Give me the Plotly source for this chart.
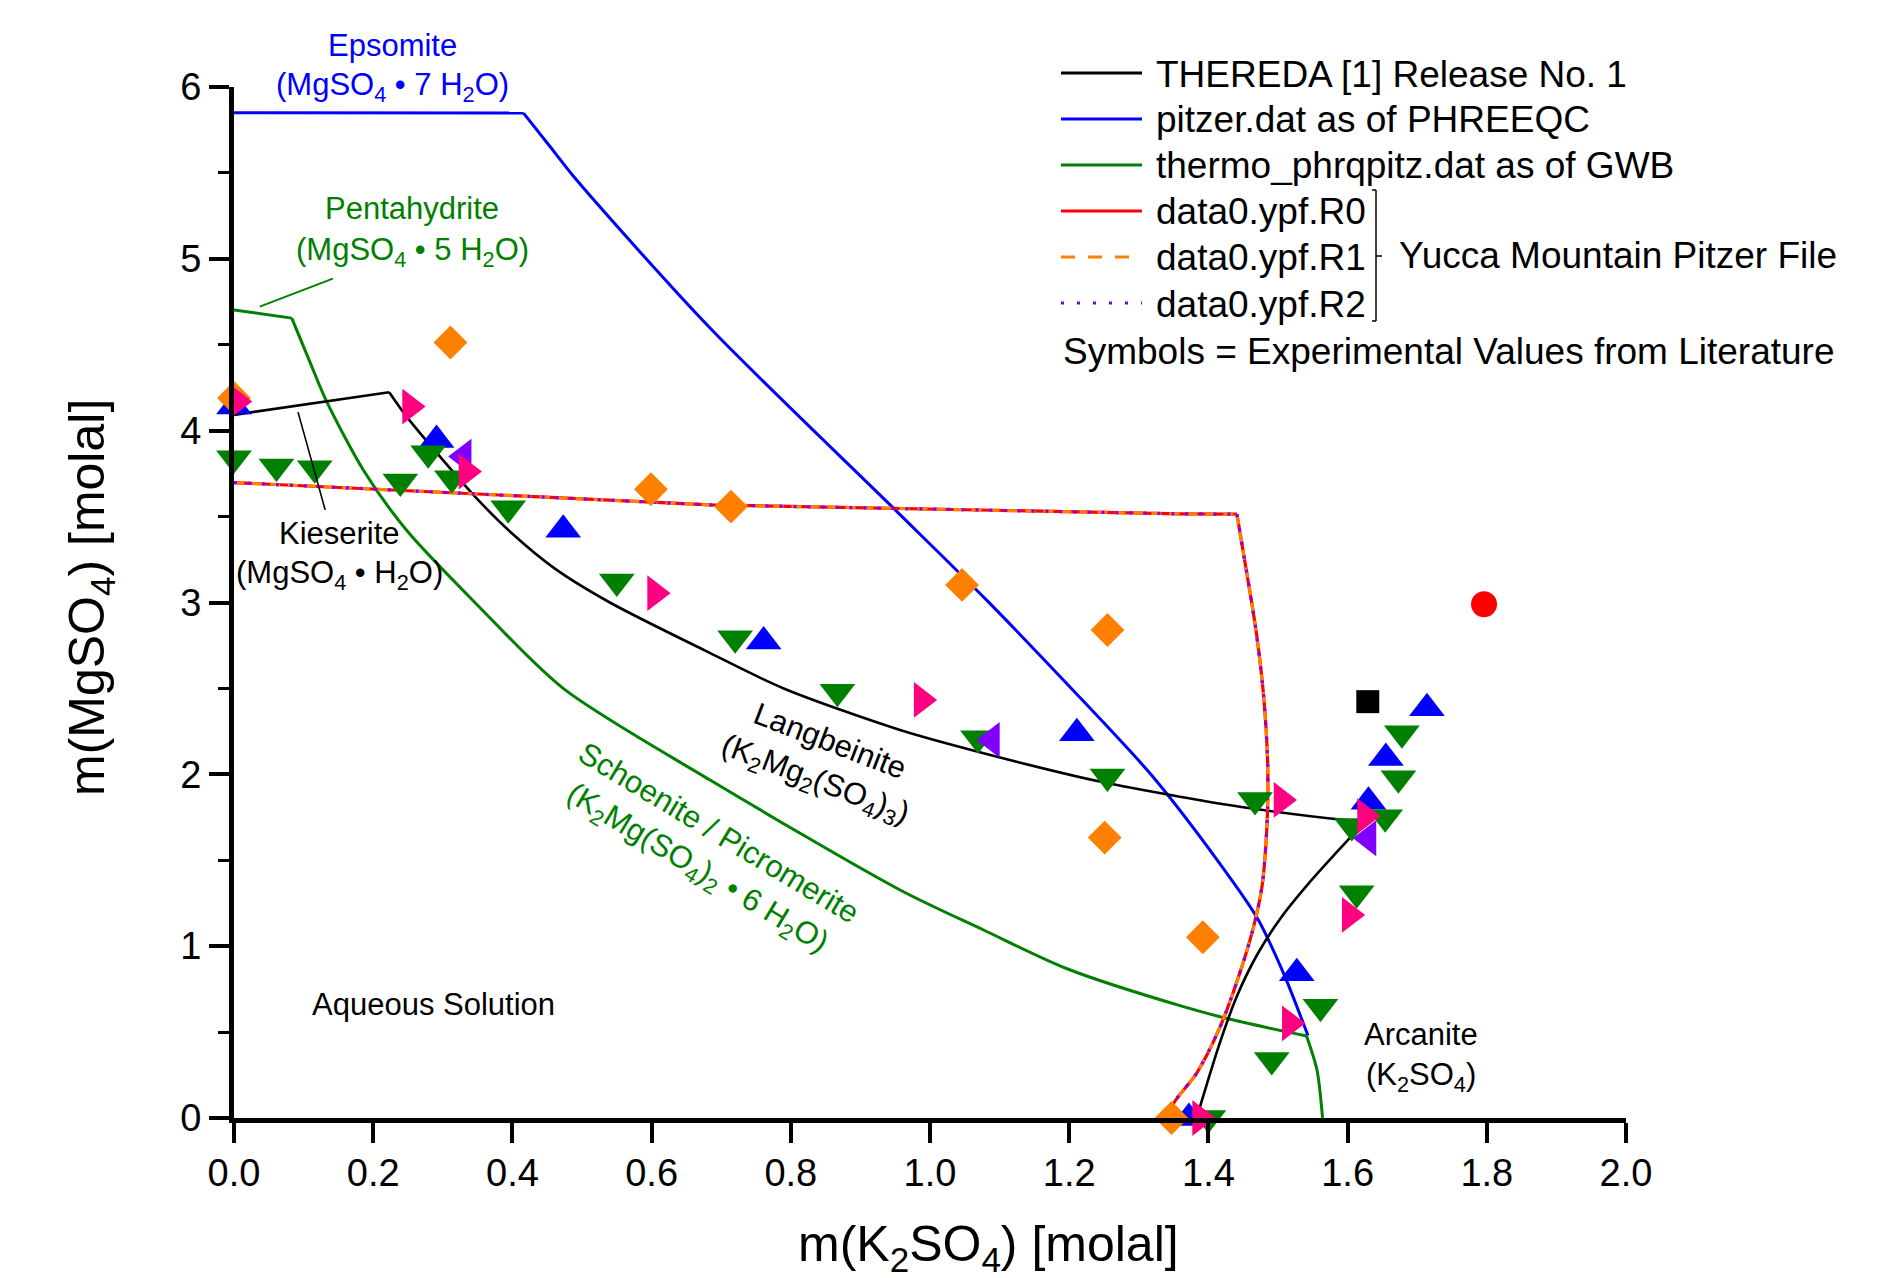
import plotly.graph_objects as go

# ---------------- data ----------------
# THEREDA [1] Release No. 1 (black); corner after the 2nd point
thereda_x = [0.0, 0.223, 0.248, 0.300, 0.350, 0.400, 0.460, 0.540, 0.677, 0.789,
             0.957, 1.077, 1.244, 1.359, 1.460, 1.594, 1.625]
thereda_y = [4.092, 4.224, 4.082, 3.830, 3.600, 3.400, 3.200, 3.000, 2.720, 2.501,
             2.258, 2.123, 1.958, 1.870, 1.803, 1.735, 1.725]
# THEREDA Langbeinite / Arcanite boundary
thereda2_x = [1.383, 1.398, 1.415, 1.440, 1.470, 1.505, 1.545, 1.585, 1.625]
thereda2_y = [0.0, 0.20, 0.42, 0.70, 0.95, 1.17, 1.37, 1.55, 1.725]

# pitzer.dat as of PHREEQC (blue); corner after the 2nd point
phreeqc_x = [0.0, 0.416, 0.454, 0.492, 0.684, 0.950, 1.081, 1.196, 1.316,
             1.402, 1.469, 1.508, 1.543]
phreeqc_y = [5.850, 5.848, 5.654, 5.460, 4.597, 3.539, 3.015, 2.530, 2.006,
             1.560, 1.172, 0.842, 0.480]

# thermo_phrqpitz.dat as of GWB (green); corners at index 1 and 14
gwb_x = [0.0, 0.083, 0.109, 0.133, 0.186, 0.248, 0.351, 0.473, 0.684, 0.957,
         1.077, 1.196, 1.364, 1.436, 1.541, 1.556, 1.564]
gwb_y = [4.703, 4.655, 4.400, 4.170, 3.770, 3.420, 2.980, 2.500, 1.967, 1.327,
         1.094, 0.870, 0.648, 0.570, 0.477, 0.279, 0.0]

# data0.ypf.R0 / R1 / R2 (Yucca Mountain Pitzer File) - the curves coincide; corner at index 4
ypf_x = [0.0, 0.35, 0.684, 1.359, 1.441, 1.460, 1.469, 1.479, 1.485, 1.485,
         1.481, 1.477, 1.465, 1.445, 1.417, 1.383, 1.350, 1.345]
ypf_y = [3.698, 3.630, 3.568, 3.516, 3.514, 3.054, 2.821, 2.472, 2.084, 1.793,
         1.502, 1.346, 1.114, 0.842, 0.532, 0.260, 0.085, 0.0]

# experimental values from literature (symbols)
blue_up_x = [0.0, 0.291, 0.473, 0.761, 1.211, 1.527, 1.372, 1.630, 1.655, 1.714]
blue_up_y = [4.14, 3.946, 3.423, 2.773, 2.239, 0.842, 0.0, 1.840, 2.095, 2.385]

green_dn_x = [0.0, 0.061, 0.116, 0.279, 0.239, 0.313, 0.394, 0.550, 0.720, 0.867,
              1.069, 1.255, 1.467, 1.561, 1.491, 1.613, 1.400, 1.606, 1.654, 1.673, 1.678]
green_dn_y = [3.84, 3.791, 3.782, 3.869, 3.704, 3.723, 3.549, 3.122, 2.792, 2.481,
              2.210, 1.987, 1.851, 0.648, 0.338, 1.308, 0.0, 1.700, 1.750, 1.977, 2.239]

orange_dia_x = [0.0, 0.311, 0.599, 0.714, 1.046, 1.255, 1.251, 1.392, 1.347]
orange_dia_y = [4.19, 4.513, 3.659, 3.558, 3.102, 2.840, 1.632, 1.052, 0.0]

purple_left_x = [0.330, 1.089, 1.630]
purple_left_y = [3.849, 2.200, 1.628]

pink_right_x = [0.004, 0.253, 0.334, 0.605, 0.988, 1.505, 1.517, 1.603, 1.388, 1.625]
pink_right_y = [4.17, 4.140, 3.762, 3.054, 2.433, 1.851, 0.551, 1.182, 0.0, 1.757]

red_circle_x = [1.796]
red_circle_y = [2.990]

black_square_x = [1.629]
black_square_y = [2.423]

x_ticks = [0.0, 0.2, 0.4, 0.6, 0.8, 1.0, 1.2, 1.4, 1.6, 1.8, 2.0]
x_tick_labels = ["0.0", "0.2", "0.4", "0.6", "0.8", "1.0", "1.2", "1.4", "1.6", "1.8", "2.0"]
y_ticks = [0, 1, 2, 3, 4, 5, 6]
y_tick_labels = ["0", "1", "2", "3", "4", "5", "6"]

legend_labels = ["THEREDA [1] Release No. 1", "pitzer.dat as of PHREEQC",
                 "thermo_phrqpitz.dat as of GWB", "data0.ypf.R0", "data0.ypf.R1",
                 "data0.ypf.R2"]

# ---------------- styling ----------------
FONT = "Liberation Sans, Arial, Helvetica, sans-serif"
BLUE = "#0000FF"
GREEN = "#008000"
RED = "#FF0000"
ORANGE = "#FF8000"
PURPLE = "#8000FF"
PINK = "#FF0080"
BLACK = "#000000"

OFF = 8  # the page body margin shifts the figure by 8 px
W, H = 1882 - OFF, 1278 - OFF
L, R, T, B = 234 - OFF, 1626 - OFF, 87 - OFF, 1118 - OFF


def pxx(x):
    return (x - OFF - L) / (R - L)


def pxy(y):
    return (B - (y - OFF)) / (B - T)


fig = go.Figure()


def add_line(x, y, color, width=3, dash="solid", shape="linear"):
    fig.add_trace(go.Scatter(x=x, y=y, mode="lines", showlegend=False,
                             line=dict(color=color, width=width, dash=dash,
                                       shape=shape, smoothing=0.8),
                             hoverinfo="skip"))


def add_curve(x, y, breaks, color, width=3, dash="solid", linear_first=True):
    idx = [0] + breaks + [len(x) - 1]
    for k in range(len(idx) - 1):
        a, b = idx[k], idx[k + 1]
        shp = "linear" if (k == 0 and linear_first) or (b - a) < 2 else "spline"
        add_line(x[a:b + 1], y[a:b + 1], color, width, dash, shp)


add_curve(phreeqc_x, phreeqc_y, [1], BLUE, 3)
add_curve(gwb_x, gwb_y, [1, 14], GREEN, 3)
add_curve(thereda_x, thereda_y, [1], BLACK, 2.6)
add_curve(thereda2_x, thereda2_y, [], BLACK, 2.6, linear_first=False)
add_curve(ypf_x, ypf_y, [4], RED, 3.2)
add_curve(ypf_x, ypf_y, [4], ORANGE, 3.2, "10px,8px")
add_curve(ypf_x, ypf_y, [4], PURPLE, 3.2, "3px,11px")


def add_markers(x, y, symbol, color, size):
    fig.add_trace(go.Scatter(x=x, y=y, mode="markers", showlegend=False,
                             cliponaxis=False,
                             marker=dict(symbol=symbol, color=color, size=size,
                                         line=dict(width=0))))


add_markers(blue_up_x, blue_up_y, "triangle-up", BLUE, 31)
add_markers(green_dn_x, green_dn_y, "triangle-down", GREEN, 31)
add_markers(orange_dia_x, orange_dia_y, "diamond", ORANGE, 26)
add_markers(purple_left_x, purple_left_y, "triangle-left", PURPLE, 31)
add_markers(pink_right_x, pink_right_y, "triangle-right", PINK, 31)
add_markers(red_circle_x, red_circle_y, "circle", RED, 26)
add_markers(black_square_x, black_square_y, "square", BLACK, 23)

annotations = []
shapes = []


def text_px(x, y, text, color=BLACK, size=31, xanchor="center", angle=0):
    annotations.append(dict(xref="paper", yref="paper", x=pxx(x), y=pxy(y),
                            text=text, showarrow=False, xanchor=xanchor,
                            yanchor="middle", textangle=angle,
                            font=dict(family=FONT, size=size, color=color)))


# mineral labels
text_px(392, 45, "Epsomite", BLUE)
text_px(392, 87, "(MgSO<sub>4</sub> • 7 H<sub>2</sub>O)", BLUE)
text_px(412, 208, "Pentahydrite", GREEN)
text_px(412, 252, "(MgSO<sub>4</sub> • 5 H<sub>2</sub>O)", GREEN)
text_px(339, 533, "Kieserite", BLACK)
text_px(339, 575, "(MgSO<sub>4</sub> • H<sub>2</sub>O)", BLACK)
text_px(433, 1004, "Aqueous Solution", BLACK)
text_px(1421, 1034, "Arcanite", BLACK)
text_px(1421, 1077, "(K<sub>2</sub>SO<sub>4</sub>)", BLACK)
text_px(822, 762, "Langbeinite<br>(K<sub>2</sub>Mg<sub>2</sub>(SO<sub>4</sub>)<sub>3</sub>)",
        BLACK, angle=21)
text_px(707, 852, "Schoenite / Picromerite<br>(K<sub>2</sub>Mg(SO<sub>4</sub>)<sub>2</sub> • 6 H<sub>2</sub>O)",
        GREEN, angle=31)

# leader lines for labels (data coordinates)
shapes.append(dict(type="line", xref="x", yref="y", x0=0.037, y0=4.722, x1=0.142, y1=4.885,
                   line=dict(color=GREEN, width=2)))
shapes.append(dict(type="line", xref="x", yref="y", x0=0.092, y0=4.108, x1=0.131, y1=3.539,
                   line=dict(color=BLACK, width=1.6)))

# legend (drawn manually)
leg_rows = [73, 119, 165, 211, 257, 303]
leg_styles = [(BLACK, "solid"), (BLUE, "solid"), (GREEN, "solid"), (RED, "solid"),
              (ORANGE, "14px,13px"), (PURPLE, "3px,13px")]
for yy, lab, (col, dsh) in zip(leg_rows, legend_labels, leg_styles):
    shapes.append(dict(type="line", xref="paper", yref="paper",
                       x0=pxx(1061), x1=pxx(1142), y0=pxy(yy), y1=pxy(yy),
                       line=dict(color=col, width=3, dash=dsh)))
    text_px(1154, yy + 1, lab, BLACK, 37, xanchor="left")
text_px(1061, 351, "Symbols = Experimental Values from Literature", BLACK, 37, xanchor="left")

# bracket for the Yucca Mountain group
br = dict(color=BLACK, width=1.5)
shapes.append(dict(type="line", xref="paper", yref="paper", x0=pxx(1376), x1=pxx(1376),
                   y0=pxy(190), y1=pxy(321), line=br))
shapes.append(dict(type="line", xref="paper", yref="paper", x0=pxx(1372), x1=pxx(1376),
                   y0=pxy(190), y1=pxy(190), line=br))
shapes.append(dict(type="line", xref="paper", yref="paper", x0=pxx(1372), x1=pxx(1376),
                   y0=pxy(321), y1=pxy(321), line=br))
shapes.append(dict(type="line", xref="paper", yref="paper", x0=pxx(1376), x1=pxx(1382),
                   y0=pxy(256), y1=pxy(256), line=br))
text_px(1397, 256, "Yucca Mountain Pitzer File", BLACK, 37, xanchor="left")

# axis titles
text_px(988, 1247, "m(K<sub>2</sub>SO<sub>4</sub>) [molal]", BLACK, 50)
text_px(90, 598, "m(MgSO<sub>4</sub>) [molal]", BLACK, 50, angle=-90)

fig.update_layout(
    width=W, height=H,
    margin=dict(l=L, r=W - R, t=T, b=H - B, pad=0),
    paper_bgcolor="white", plot_bgcolor="white",
    font=dict(family=FONT, color=BLACK),
    showlegend=False,
    annotations=annotations,
    shapes=shapes,
    xaxis=dict(range=[0, 2], tickvals=x_ticks, ticktext=x_tick_labels,
               ticks="outside", ticklen=20, tickwidth=4, tickcolor=BLACK,
               showline=True, linewidth=5, linecolor=BLACK, mirror=False,
               showgrid=False, zeroline=False, ticklabelstandoff=-3,
               tickfont=dict(family=FONT, size=38, color=BLACK)),
    yaxis=dict(range=[0, 6], tickvals=y_ticks, ticktext=y_tick_labels,
               ticks="outside", ticklen=20, tickwidth=4, tickcolor=BLACK,
               showline=True, linewidth=5, linecolor=BLACK, mirror=False,
               showgrid=False, zeroline=False,
               minor=dict(dtick=0.5, ticks="outside", ticklen=11, tickwidth=3,
                          tickcolor=BLACK, showgrid=False),
               tickfont=dict(family=FONT, size=38, color=BLACK)),
)

fig.write_html("out.html")
